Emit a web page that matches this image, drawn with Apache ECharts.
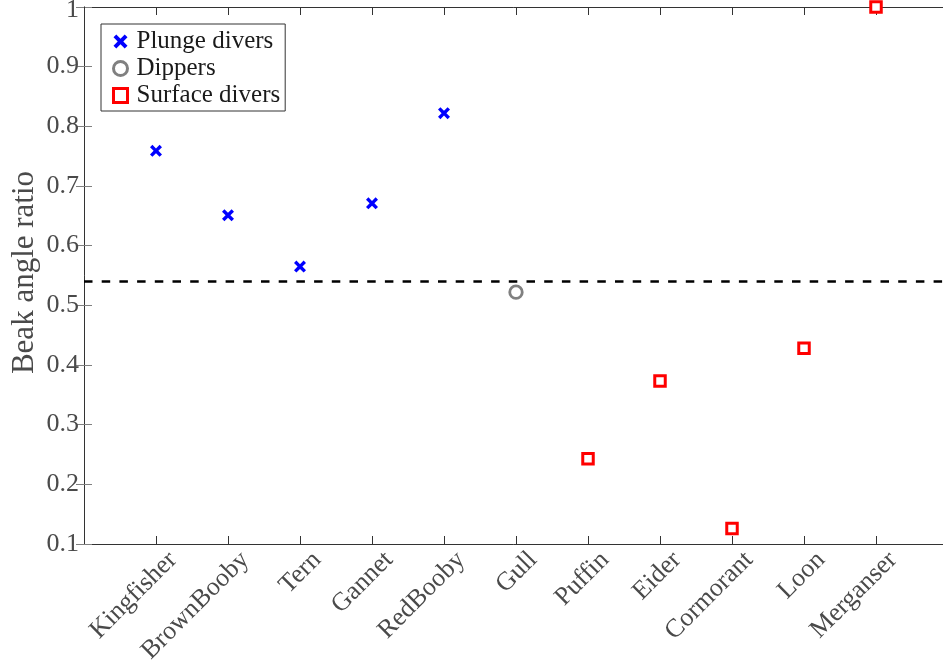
<!DOCTYPE html>
<html>
<head>
<meta charset="utf-8">
<title>Beak angle ratio</title>
<script src="https://cdn.jsdelivr.net/npm/echarts@6/dist/echarts.min.js"></script>
<style>
  html, body { margin: 0; padding: 0; background: #fff; }
  #chart { width: 943px; height: 667px; }
</style>
</head>
<body>
<div id="chart"></div>
<script>
// Birds in axis order
const categories = ['Kingfisher', 'BrownBooby', 'Tern', 'Gannet', 'RedBooby', 'Gull',
                    'Puffin', 'Eider', 'Cormorant', 'Loon', 'Merganser'];

// Plunge divers
const plungeBirds = ['Kingfisher', 'BrownBooby', 'Tern', 'Gannet', 'RedBooby'];
const plungeRatio = [0.759, 0.651, 0.565, 0.671, 0.822];

// Dippers
const dipperBirds = ['Gull'];
const dipperRatio = [0.522];

// Surface divers
const surfaceBirds = ['Puffin', 'Eider', 'Cormorant', 'Loon', 'Merganser'];
const surfaceRatio = [0.243, 0.373, 0.126, 0.428, 1.0];

// Dividing ratio between plunge and surface divers
const threshold = 0.54;

const FONT = '"Liberation Serif", "DejaVu Serif", serif';
const LABEL_COLOR = '#4a4a4a';
const AXIS_COLOR = '#333333';
const CROSS = 'path://M0,2 L2,0 L5,3 L8,0 L10,2 L7,5 L10,8 L8,10 L5,7 L2,10 L0,8 L3,5 Z';

// birds are placed at 1..N on a 0..N+1 axis
const toPoints = (names, values) => names.map((n, i) => [categories.indexOf(n) + 1, values[i]]);
const catLabel = v => categories[Math.round(v) - 1] || '';
// keep the top value label inside the page
const ratioLabel = v => (v >= 1 ? '{top|' + v + '}' : String(v));

const GRID = { left: 84, top: 7, width: 864, height: 537, outerBoundsMode: 'none', containLabel: false };

const chart = echarts.init(document.getElementById('chart'), null, { renderer: 'canvas' });

chart.setOption({
  animation: false,
  backgroundColor: '#ffffff',
  grid: [
    Object.assign({}, GRID),
    // label-only grid, offset so the rotated names end just right of their ticks
    Object.assign({}, GRID, { left: GRID.left + 17 })
  ],
  legend: {
    orient: 'vertical',
    left: 101,
    top: 24,
    padding: [5, 5, 3, 11],
    itemGap: 2,
    itemWidth: 14,
    itemHeight: 14,
    borderColor: '#333333',
    borderWidth: 1,
    backgroundColor: '#ffffff',
    textStyle: { fontFamily: FONT, fontSize: 25, color: '#1a1a1a', lineHeight: 24, padding: [0, 0, 0, 4] },
    data: [
      { name: 'Plunge divers', icon: CROSS, itemStyle: { color: '#0000ff', borderWidth: 0 } },
      { name: 'Dippers', icon: 'circle', itemStyle: { color: '#ffffff', borderColor: '#808080', borderWidth: 3 } },
      { name: 'Surface divers', icon: 'rect', itemStyle: { color: '#ffffff', borderColor: '#ff0000', borderWidth: 3 } }
    ]
  },
  xAxis: [
    {
      gridIndex: 0, type: 'value', position: 'bottom', min: 0, max: categories.length + 1, interval: 1,
      axisLine: { show: true, lineStyle: { color: AXIS_COLOR, width: 1 } },
      axisTick: { show: true, inside: true, length: 8, lineStyle: { color: AXIS_COLOR } },
      axisLabel: { show: false },
      splitLine: { show: false }
    },
    {
      gridIndex: 0, type: 'value', position: 'top', min: 0, max: categories.length + 1, interval: 1,
      axisLine: { show: true, lineStyle: { color: AXIS_COLOR, width: 1 } },
      axisTick: { show: true, inside: true, length: 8, lineStyle: { color: AXIS_COLOR } },
      axisLabel: { show: false },
      splitLine: { show: false }
    },
    {
      gridIndex: 1, type: 'value', position: 'bottom', min: 0, max: categories.length + 1, interval: 1,
      axisLine: { show: false },
      axisTick: { show: false },
      splitLine: { show: false },
      axisLabel: {
        show: true, rotate: 45, margin: 12, formatter: catLabel,
        fontFamily: FONT, fontSize: 26, color: LABEL_COLOR
      }
    }
  ],
  yAxis: [
    {
      gridIndex: 0, type: 'value', position: 'left', min: 0.1, max: 1, interval: 0.1,
      name: 'Beak angle ratio', nameLocation: 'middle', nameGap: 44, nameMoveOverlap: false,
      nameTextStyle: { fontFamily: FONT, fontSize: 31, color: LABEL_COLOR, padding: [0, 0, 0, 6] },
      axisLine: { show: true, lineStyle: { color: '#808080', width: 1 } },
      axisTick: { show: true, inside: true, length: 8, lineStyle: { color: '#808080' } },
      axisLabel: {
        show: true, margin: 5, fontFamily: FONT, fontSize: 26, color: LABEL_COLOR,
        formatter: ratioLabel,
        rich: { top: { fontFamily: FONT, fontSize: 26, color: LABEL_COLOR, padding: [7, 0, 0, 0] } }
      },
      splitLine: { show: false }
    },
    {
      gridIndex: 0, type: 'value', position: 'right', min: 0.1, max: 1, interval: 0.1,
      axisLine: { show: true, lineStyle: { color: AXIS_COLOR, width: 1 } },
      axisTick: { show: true, inside: true, length: 8, lineStyle: { color: '#808080' } },
      axisLabel: { show: false },
      splitLine: { show: false }
    },
    { gridIndex: 1, type: 'value', min: 0, max: 1, show: false }
  ],
  series: [
    {
      name: 'threshold', type: 'line', xAxisIndex: 0, yAxisIndex: 0, data: [],
      silent: true,
      markLine: {
        silent: true, symbol: ['none', 'none'], label: { show: false },
        lineStyle: { color: '#000000', width: 2.6, type: [8.5, 9.2] },
        data: [{ yAxis: threshold }]
      }
    },
    {
      name: 'Plunge divers', type: 'scatter', xAxisIndex: 0, yAxisIndex: 0,
      symbol: CROSS, symbolSize: 12, clip: false,
      itemStyle: { color: '#0000ff', opacity: 1 },
      data: toPoints(plungeBirds, plungeRatio)
    },
    {
      name: 'Dippers', type: 'scatter', xAxisIndex: 0, yAxisIndex: 0,
      symbol: 'circle', symbolSize: 12.5, clip: false,
      itemStyle: { color: '#ffffff', borderColor: '#808080', borderWidth: 2.8, opacity: 1 },
      data: toPoints(dipperBirds, dipperRatio)
    },
    {
      name: 'Surface divers', type: 'scatter', xAxisIndex: 0, yAxisIndex: 0,
      symbol: 'rect', symbolSize: 10.5, clip: false,
      itemStyle: { color: '#ffffff', borderColor: '#ff0000', borderWidth: 3, opacity: 1 },
      data: toPoints(surfaceBirds, surfaceRatio)
    }
  ]
});
</script>
</body>
</html>
